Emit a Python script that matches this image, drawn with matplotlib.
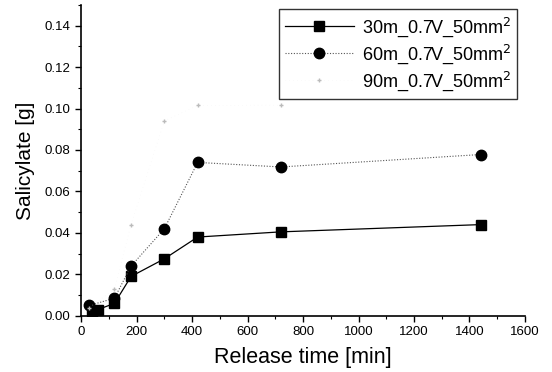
import matplotlib.pyplot as plt
from matplotlib.ticker import MultipleLocator

plt.rcParams['font.family'] = ['Liberation Sans', 'DejaVu Sans']

# Data
t_30 = [40, 60, 120, 180, 300, 420, 720, 1440]
y_30 = [0.001, 0.003, 0.006, 0.019, 0.0275, 0.038, 0.0405, 0.044]

t_60 = [30, 120, 180, 300, 420, 720, 1440]
y_60 = [0.005, 0.0085, 0.024, 0.042, 0.074, 0.0718, 0.0778]

t_90 = [30, 120, 180, 300, 420, 720]
y_90 = [0.004, 0.013, 0.044, 0.094, 0.1015, 0.1016]

labels = ['30m_0.7V_50mm$^2$', '60m_0.7V_50mm$^2$', '90m_0.7V_50mm$^2$']

fig = plt.figure(figsize=(5.52, 3.72), dpi=100)
ax = fig.add_axes([0.147, 0.151, 0.804, 0.836])

ax.plot(t_30, y_30, color='black', lw=0.9, marker='s', ms=7, label=labels[0])
ax.plot(t_60, y_60, color='#555555', lw=0.8, ls=(0, (1, 1.5)), marker='o', ms=7.5,
        mfc='black', mec='black', label=labels[1])
ax.plot(t_90, y_90, color='#f2f2f2', lw=0.4, ls=(0, (1, 6)), marker='+', ms=3,
        mec='#bbbbbb', label=labels[2])

ax.set_xlim(0, 1600)
ax.set_ylim(0, 0.15)
ax.xaxis.set_major_locator(MultipleLocator(200))
ax.xaxis.set_minor_locator(MultipleLocator(100))
ax.yaxis.set_major_locator(MultipleLocator(0.02))
ax.yaxis.set_minor_locator(MultipleLocator(0.01))
ax.yaxis.set_major_formatter(plt.FuncFormatter(lambda v, p: f'{v:.2f}'))
ax.tick_params(which='major', direction='out', length=4, width=1, labelsize=9.5)
ax.tick_params(which='minor', direction='out', length=2.5, width=0.8)

ax.spines['top'].set_visible(False)
ax.spines['right'].set_visible(False)
ax.spines['left'].set_linewidth(1.2)
ax.spines['bottom'].set_linewidth(1.2)

ax.set_xlabel('Release time [min]', fontsize=15.5, labelpad=6)
ax.set_ylabel('Salicylate [g]', fontsize=15, labelpad=7)

leg = ax.legend(loc='upper right', bbox_to_anchor=(0.982, 0.987), borderaxespad=0,
                fontsize=13, frameon=True, fancybox=False, edgecolor='black',
                handlelength=3.8, handletextpad=0.45, borderpad=0.35,
                labelspacing=0.2)
leg.get_frame().set_linewidth(1.0)

plt.savefig('out.png', dpi=100)
